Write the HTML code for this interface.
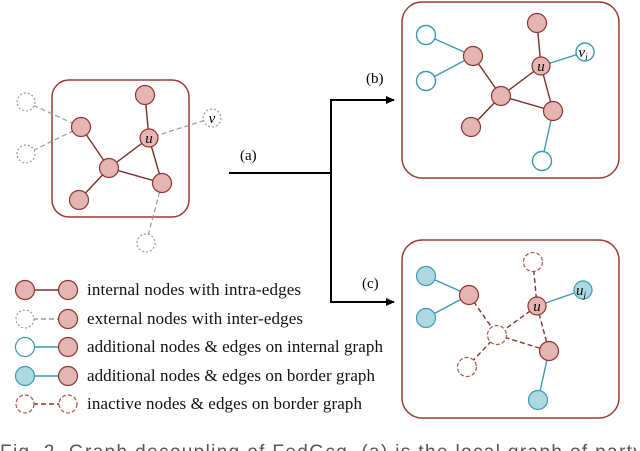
<!DOCTYPE html>
<html><head><meta charset="utf-8"><style>
html,body{margin:0;padding:0;background:#fff;width:640px;height:451px;overflow:hidden}
svg{display:block}
</style></head><body>
<svg width="640" height="451" viewBox="0 0 640 451" xmlns="http://www.w3.org/2000/svg">
<defs>
<marker id="ar" markerWidth="10" markerHeight="10" refX="8" refY="5" orient="auto" markerUnits="userSpaceOnUse">
<path d="M0,1 L9,5 L0,9 z" fill="#000"/></marker>
</defs>
<g font-family="Liberation Serif, serif">
<rect x="52" y="80" width="137" height="137" rx="17" fill="none" stroke="#9b3a33" stroke-width="1.5"/>
<g stroke="#999" stroke-width="1.2" stroke-dasharray="5,3">
<line x1="26" y1="102" x2="81" y2="127"/><line x1="26" y1="154" x2="81" y2="127"/>
<line x1="212" y1="118" x2="149" y2="138"/><line x1="146" y1="243" x2="162" y2="183"/>
</g>
<g stroke="#7a2e2a" stroke-width="1.4">
<line x1="145" y1="95" x2="149" y2="138"/><line x1="81" y1="127" x2="109" y2="168"/>
<line x1="149" y1="138" x2="109" y2="168"/><line x1="149" y1="138" x2="162" y2="183"/>
<line x1="109" y1="168" x2="162" y2="183"/><line x1="109" y1="168" x2="79" y2="200"/>
</g>
<g fill="#fff" stroke="#999" stroke-width="1.2" stroke-dasharray="2,2">
<circle cx="26" cy="102" r="9"/><circle cx="26" cy="154" r="9"/><circle cx="212" cy="118" r="9"/><circle cx="146" cy="243" r="9"/>
</g>
<g fill="#e4b5b3" stroke="#8a3530" stroke-width="1.2">
<circle cx="145" cy="95" r="9.5"/><circle cx="81" cy="127" r="9.5"/><circle cx="149" cy="138" r="9"/>
<circle cx="109" cy="168" r="9.5"/><circle cx="162" cy="183" r="9.5"/><circle cx="79" cy="200" r="9.5"/>
</g>
<text x="149" y="143" font-size="15" font-style="italic" text-anchor="middle">u</text>
<text x="212" y="123" font-size="15" font-style="italic" text-anchor="middle">v</text>

<g stroke="#000" stroke-width="2" fill="none">
<polyline points="229,173 331,173"/>
<polyline points="331,99 331,302"/>
<line x1="330" y1="100" x2="394" y2="100" marker-end="url(#ar)"/>
<line x1="330" y1="302" x2="394" y2="302" marker-end="url(#ar)"/>
</g>
<text x="240" y="160" font-size="15">(a)</text>
<text x="366" y="83" font-size="15">(b)</text>
<text x="362" y="288" font-size="15">(c)</text>

<rect x="402" y="2" width="217" height="176" rx="20" fill="none" stroke="#9b3a33" stroke-width="1.5"/>
<g stroke="#3a9ab0" stroke-width="1.4">
<line x1="426" y1="35" x2="473" y2="56"/><line x1="426" y1="81" x2="473" y2="56"/>
<line x1="585" y1="52" x2="541" y2="66"/><line x1="542" y1="161" x2="553" y2="111"/>
</g>
<g stroke="#7a2e2a" stroke-width="1.4">
<line x1="537" y1="23" x2="541" y2="66"/><line x1="473" y1="56" x2="501" y2="96"/>
<line x1="541" y1="66" x2="501" y2="96"/><line x1="541" y1="66" x2="553" y2="111"/>
<line x1="501" y1="96" x2="553" y2="111"/><line x1="501" y1="96" x2="471" y2="127"/>
</g>
<g fill="#fff" stroke="#3a9ab0" stroke-width="1.4">
<circle cx="426" cy="35" r="9.5"/><circle cx="426" cy="81" r="9.5"/><circle cx="585" cy="52" r="9"/><circle cx="542" cy="161" r="9.5"/>
</g>
<g fill="#e4b5b3" stroke="#8a3530" stroke-width="1.2">
<circle cx="537" cy="23" r="9.5"/><circle cx="473" cy="56" r="9.5"/><circle cx="541" cy="66" r="9"/>
<circle cx="501" cy="96" r="9.5"/><circle cx="553" cy="111" r="9.5"/><circle cx="471" cy="127" r="9.5"/>
</g>
<text x="541" y="71" font-size="15" font-style="italic" text-anchor="middle">u</text>
<text x="583" y="57" font-size="15" font-style="italic" text-anchor="middle">v<tspan font-size="9" dy="3">i</tspan></text>

<rect x="402" y="240" width="217" height="178" rx="20" fill="none" stroke="#9b3a33" stroke-width="1.5"/>
<g stroke="#3a9ab0" stroke-width="1.4">
<line x1="426" y1="276" x2="469" y2="295"/><line x1="426" y1="318" x2="469" y2="295"/>
<line x1="583" y1="290" x2="537" y2="306"/><line x1="538" y1="400" x2="549" y2="351"/>
</g>
<g stroke="#8a3530" stroke-width="1.4" stroke-dasharray="5,3">
<line x1="533" y1="262" x2="537" y2="306"/><line x1="469" y1="295" x2="497" y2="335"/>
<line x1="537" y1="306" x2="497" y2="335"/><line x1="537" y1="306" x2="549" y2="351"/>
<line x1="497" y1="335" x2="549" y2="351"/><line x1="497" y1="335" x2="467" y2="367"/>
</g>
<g fill="#fff" stroke="#b0544c" stroke-width="1.2" stroke-dasharray="4,2">
<circle cx="533" cy="262" r="9.5"/><circle cx="497" cy="335" r="9.5"/><circle cx="467" cy="367" r="9.5"/>
</g>
<g fill="#add8e2" stroke="#3a9ab0" stroke-width="1.2">
<circle cx="426" cy="276" r="9.5"/><circle cx="426" cy="318" r="9.5"/><circle cx="583" cy="290" r="9"/><circle cx="538" cy="400" r="9.5"/>
</g>
<g fill="#e4b5b3" stroke="#8a3530" stroke-width="1.2">
<circle cx="469" cy="295" r="9.5"/><circle cx="537" cy="306" r="9"/><circle cx="549" cy="351" r="9.5"/>
</g>
<text x="537" y="311" font-size="15" font-style="italic" text-anchor="middle">u</text>
<text x="581" y="295" font-size="15" font-style="italic" text-anchor="middle">u<tspan font-size="9" dy="3">j</tspan></text>

<g stroke-width="1.4">
<line x1="25" y1="290" x2="68" y2="290" stroke="#7a2e2a"/>
<line x1="25" y1="319" x2="68" y2="319" stroke="#999" stroke-dasharray="5,3"/>
<line x1="25" y1="347" x2="68" y2="347" stroke="#3a9ab0"/>
<line x1="25" y1="376" x2="68" y2="376" stroke="#3a9ab0"/>
<line x1="25" y1="404" x2="68" y2="404" stroke="#8a3530" stroke-dasharray="5,3"/>
</g>
<g stroke-width="1.2">
<circle cx="25" cy="290" r="9.5" fill="#e4b5b3" stroke="#8a3530"/><circle cx="68" cy="290" r="9.5" fill="#e4b5b3" stroke="#8a3530"/>
<circle cx="25" cy="319" r="9" fill="#fff" stroke="#999" stroke-dasharray="2,2"/><circle cx="68" cy="319" r="9.5" fill="#e4b5b3" stroke="#8a3530"/>
<circle cx="25" cy="347" r="9.5" fill="#fff" stroke="#3a9ab0"/><circle cx="68" cy="347" r="9.5" fill="#e4b5b3" stroke="#8a3530"/>
<circle cx="25" cy="376" r="9.5" fill="#add8e2" stroke="#3a9ab0"/><circle cx="68" cy="376" r="9.5" fill="#e4b5b3" stroke="#8a3530"/>
<circle cx="25" cy="404" r="9" fill="#fff" stroke="#b0544c" stroke-dasharray="4,2"/><circle cx="68" cy="404" r="9" fill="#fff" stroke="#b0544c" stroke-dasharray="4,2"/>
</g>
<g font-size="17" fill="#111">
<text x="87" y="295" textLength="214">internal nodes with intra-edges</text>
<text x="87" y="324" textLength="216">external nodes with inter-edges</text>
<text x="87" y="352" textLength="296">additional nodes &amp; edges on internal graph</text>
<text x="87" y="381" textLength="288">additional nodes &amp; edges on border graph</text>
<text x="87" y="409" textLength="275">inactive nodes &amp; edges on border graph</text>
</g>
</g>
<text x="0" y="458" font-family="Liberation Sans, sans-serif" font-size="19" fill="#555" textLength="655">Fig. 2. Graph decoupling of FedGcq. (a) is the local graph of party i</text>
</svg>
</body></html>
